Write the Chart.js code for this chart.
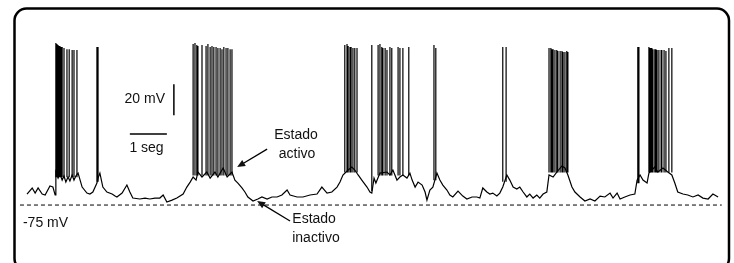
<!DOCTYPE html>
<html>
<head>
<meta charset="utf-8">
<script src="https://cdn.jsdelivr.net/npm/chart.js"></script>
<style>
  body { margin: 0; background: #fff; }
  #wrap { width: 734px; height: 263px; }
</style>
</head>
<body>
<div id="wrap"><canvas id="traceChart" width="734" height="263"></canvas></div>
<script>
// Membrane potential trace (time in s, potential in mV)
const traceTime = [0.00,0.14,0.22,0.30,0.41,0.49,0.62,0.70,0.76,0.78,
  0.84,0.89,0.95,1.00,1.05,1.11,1.16,1.22,1.27,1.32,
  1.38,1.49,1.62,1.70,1.78,1.89,1.92,1.97,2.05,2.16,
  2.30,2.38,2.43,2.57,2.70,2.78,2.86,3.05,3.19,3.32,
  3.46,3.59,3.68,3.78,3.92,4.05,4.22,4.32,4.41,4.49,
  4.57,4.62,4.73,4.86,4.95,5.08,5.16,5.30,5.41,5.54,
  5.62,5.70,5.81,5.89,5.97,6.11,6.24,6.35,6.49,6.62,
  6.76,6.89,7.03,7.11,7.30,7.46,7.65,7.84,7.97,8.11,
  8.24,8.38,8.46,8.54,8.68,8.78,8.86,8.95,9.05,9.19,
  9.27,9.32,9.38,9.43,9.54,9.73,9.81,9.89,10.00,10.08,
  10.16,10.27,10.35,10.41,10.49,10.57,10.68,10.76,10.81,10.89,
  10.97,11.08,11.16,11.24,11.35,11.43,11.51,11.65,11.78,11.89,
  12.03,12.16,12.24,12.32,12.43,12.51,12.59,12.70,12.78,12.86,
  12.97,13.05,13.14,13.24,13.32,13.41,13.51,13.59,13.68,13.78,
  13.86,13.95,14.05,14.11,14.22,14.32,14.46,14.54,14.62,14.73,
  14.81,14.95,15.08,15.22,15.35,15.49,15.62,15.76,15.84,15.95,
  16.03,16.16,16.30,16.43,16.49,16.57,16.65,16.76,16.81,16.97,
  17.05,17.19,17.32,17.43,17.51,17.59,17.73,17.86,18.00,18.14,
  18.27,18.41,18.54,18.68];
const traceMv = [-67.9,-64.0,-67.3,-64.0,-67.9,-68.5,-62.7,-63.4,-68.5,-53.7,
  -57.6,-55.0,-58.9,-56.3,-60.2,-56.9,-59.5,-55.6,-58.9,-56.3,
  -54.4,-63.4,-67.3,-67.9,-66.6,-60.8,-57.6,-54.4,-63.4,-66.6,
  -67.9,-69.2,-69.8,-67.3,-62.1,-66.6,-70.5,-71.1,-70.5,-71.1,
  -70.5,-70.5,-68.5,-73.1,-71.8,-70.5,-67.9,-63.4,-60.2,-56.9,
  -58.9,-53.7,-56.9,-53.7,-57.6,-53.7,-56.9,-51.1,-56.9,-53.7,
  -58.9,-60.8,-64.0,-66.6,-69.8,-72.4,-71.1,-69.8,-71.1,-69.8,
  -69.8,-68.5,-65.3,-68.5,-69.8,-69.8,-68.5,-67.9,-63.4,-67.3,
  -66.6,-63.4,-60.2,-55.6,-52.4,-50.5,-52.4,-55.6,-58.9,-63.4,
  -66.6,-67.3,-57.6,-60.8,-54.4,-53.7,-55.6,-52.4,-58.9,-56.9,
  -55.6,-57.6,-54.4,-58.9,-63.4,-60.2,-62.1,-66.6,-71.8,-65.3,
  -63.4,-54.4,-58.9,-62.1,-65.3,-68.5,-69.8,-66.0,-69.2,-71.1,
  -69.8,-69.8,-70.5,-64.0,-66.6,-67.9,-67.3,-69.2,-67.3,-63.4,
  -55.6,-58.9,-63.4,-64.7,-63.4,-66.6,-69.8,-67.9,-70.5,-68.5,
  -70.5,-67.9,-66.6,-55.6,-56.9,-53.7,-49.8,-51.1,-55.6,-63.4,
  -66.6,-69.8,-72.4,-71.1,-72.4,-69.2,-69.8,-67.3,-70.5,-67.3,
  -71.1,-69.8,-68.5,-67.9,-58.9,-55.6,-58.9,-60.8,-54.4,-50.5,
  -53.7,-51.1,-53.7,-55.6,-60.8,-66.6,-67.9,-68.5,-69.8,-68.5,
  -70.5,-71.1,-67.9,-69.8];

// Action potentials: time, peak and foot (mV)
const spikeTime = [0.78,0.81,0.84,0.86,0.89,0.92,0.95,1.00,1.08,1.14,1.22,1.27,1.35,
  1.89,1.92,
  4.49,4.54,4.59,4.62,4.73,4.84,4.89,4.95,5.00,5.05,5.11,5.16,5.22,5.27,5.32,5.38,5.43,5.49,5.54,
  8.59,8.65,8.68,8.73,8.76,8.81,8.86,8.92,
  9.32,
  9.49,9.54,9.59,9.62,9.68,9.73,9.81,9.86,10.03,10.08,10.16,10.32,
  11.00,11.05,
  12.86,12.95,
  14.11,14.16,14.19,14.22,14.27,14.32,14.35,14.41,14.46,14.49,14.54,14.59,14.62,
  16.51,16.54,
  16.81,16.84,16.86,16.89,16.92,16.97,17.00,17.03,17.08,17.14,17.16,17.22,17.27,17.35,17.43];
const spikePeak = [29.5,28.9,28.2,27.6,27.6,26.9,26.9,26.3,25.6,25.6,25.0,25.0,25.0,
  26.9,26.9,
  28.9,29.5,28.2,27.6,28.2,27.6,28.9,26.9,27.6,26.9,26.9,26.3,26.3,25.6,26.9,26.3,26.3,25.6,25.6,
  28.2,28.9,27.6,26.9,26.9,26.3,26.3,26.3,
  28.2,
  28.2,28.9,26.9,26.3,26.3,25.0,26.9,26.3,26.9,26.3,26.3,26.9,
  28.2,26.3,
  26.9,26.9,
  26.3,26.3,25.6,25.6,25.0,25.0,24.4,24.4,24.4,23.7,23.7,24.4,23.7,
  26.9,26.9,
  26.9,26.3,26.3,26.3,25.6,25.6,25.6,25.0,25.0,25.0,25.0,25.0,24.4,26.3,26.3];
const spikeBase = [-57,-57,-57,-57,-57,-57,-57,-57,-57,-57,-57,-57,-57,
  -60,-60,
  -56,-56,-56,-56,-56,-56,-56,-56,-56,-56,-56,-56,-56,-56,-56,-56,-56,-56,-56,
  -54,-54,-54,-54,-54,-54,-54,-54,
  -66,
  -56,-56,-56,-56,-56,-56,-56,-56,-56,-56,-56,-56,
  -59,-59,
  -60,-60,
  -54,-54,-54,-54,-54,-54,-54,-54,-54,-54,-54,-54,-54,
  -61,-61,
  -54,-54,-54,-54,-54,-54,-54,-54,-54,-54,-54,-54,-54,-54,-54];

// Reference level and scale bars
const restLevel = -75;
const restSpan = [-0.19, 18.78];
const barTime = [2.78, 3.78];   // 1 seg
const barMv = [-17, 3];         // 20 mV
const barMvAt = 3.97;
const barTimeAt = -29.2;

// Build datasets
const tracePoints = traceTime.map((t, i) => ({ x: t, y: traceMv[i] }));
const spikePoints = [];
spikeTime.forEach((t, i) => {
  spikePoints.push({ x: t, y: spikeBase[i] });
  spikePoints.push({ x: t, y: spikePeak[i] });
  spikePoints.push({ x: t, y: null });
});

// Labels and arrows, placed in data units
const labels = [
  { text: '20 mV', x: 3.73, y: -9.2, align: 'right' },
  { text: '1 seg', x: 3.23, y: -40.8, align: 'center' },
  { text: 'Estado', x: 7.27, y: -32.4, align: 'center' },
  { text: 'activo', x: 7.30, y: -44.7, align: 'center' },
  { text: 'Estado', x: 7.76, y: -86.6, align: 'center' },
  { text: 'inactivo', x: 7.81, y: -98.9, align: 'center' },
  { text: '-75 mV', x: -0.11, y: -89.2, align: 'left' }
];
const arrows = [
  { from: [6.49, -38.9], to: [5.68, -50.5] },
  { from: [7.11, -85.3], to: [6.22, -72.4] }
];

const decorPlugin = {
  id: 'decor',
  afterDatasetsDraw(chart) {
    const ctx = chart.ctx;
    const xs = chart.scales.x, ys = chart.scales.y;
    ctx.save();

    // rounded frame
    ctx.strokeStyle = '#000';
    ctx.lineWidth = 2.5;
    ctx.beginPath();
    ctx.roundRect(14.5, 8.5, 714.5, 262, 12);
    ctx.stroke();

    // text
    ctx.fillStyle = '#111';
    ctx.font = '14px "Liberation Sans", Arial, sans-serif';
    ctx.textBaseline = 'alphabetic';
    labels.forEach(l => {
      ctx.textAlign = l.align;
      ctx.fillText(l.text, xs.getPixelForValue(l.x), ys.getPixelForValue(l.y));
    });

    // arrows
    arrows.forEach(a => {
      const x1 = xs.getPixelForValue(a.from[0]), y1 = ys.getPixelForValue(a.from[1]);
      const x2 = xs.getPixelForValue(a.to[0]), y2 = ys.getPixelForValue(a.to[1]);
      const ang = Math.atan2(y2 - y1, x2 - x1);
      ctx.lineWidth = 1.3;
      ctx.beginPath();
      ctx.moveTo(x1, y1);
      ctx.lineTo(x2 - 5 * Math.cos(ang), y2 - 5 * Math.sin(ang));
      ctx.stroke();
      ctx.beginPath();
      ctx.moveTo(x2, y2);
      ctx.lineTo(x2 - 8 * Math.cos(ang) + 3.5 * Math.sin(ang), y2 - 8 * Math.sin(ang) - 3.5 * Math.cos(ang));
      ctx.lineTo(x2 - 8 * Math.cos(ang) - 3.5 * Math.sin(ang), y2 - 8 * Math.sin(ang) + 3.5 * Math.cos(ang));
      ctx.closePath();
      ctx.fill();
    });
    ctx.restore();
  }
};

const ctx = document.getElementById('traceChart').getContext('2d');
new Chart(ctx, {
  type: 'line',
  data: {
    datasets: [
      {
        label: 'Vm',
        data: tracePoints,
        borderColor: '#000',
        borderWidth: 1.2,
        pointRadius: 0,
        tension: 0
      },
      {
        label: 'spikes',
        data: spikePoints,
        borderColor: '#000',
        borderWidth: 1.2,
        pointRadius: 0,
        spanGaps: false
      },
      {
        label: '-75 mV',
        data: [{ x: restSpan[0], y: restLevel }, { x: restSpan[1], y: restLevel }],
        borderColor: '#000',
        borderWidth: 1,
        borderDash: [4, 3],
        pointRadius: 0
      },
      {
        label: '20 mV bar',
        data: [{ x: barMvAt, y: barMv[0] }, { x: barMvAt, y: barMv[1] }],
        borderColor: '#000',
        borderWidth: 1.5,
        pointRadius: 0
      },
      {
        label: '1 s bar',
        data: [{ x: barTime[0], y: barTimeAt }, { x: barTime[1], y: barTimeAt }],
        borderColor: '#000',
        borderWidth: 1.5,
        pointRadius: 0
      }
    ]
  },
  options: {
    responsive: false,
    animation: false,
    layout: { padding: 0 },
    plugins: {
      legend: { display: false },
      tooltip: { enabled: false }
    },
    scales: {
      x: { type: 'linear', min: -0.73, max: 19.11, display: false },
      y: { type: 'linear', min: -112.4, max: 57.3, display: false }
    }
  },
  plugins: [decorPlugin]
});
</script>
</body>
</html>
